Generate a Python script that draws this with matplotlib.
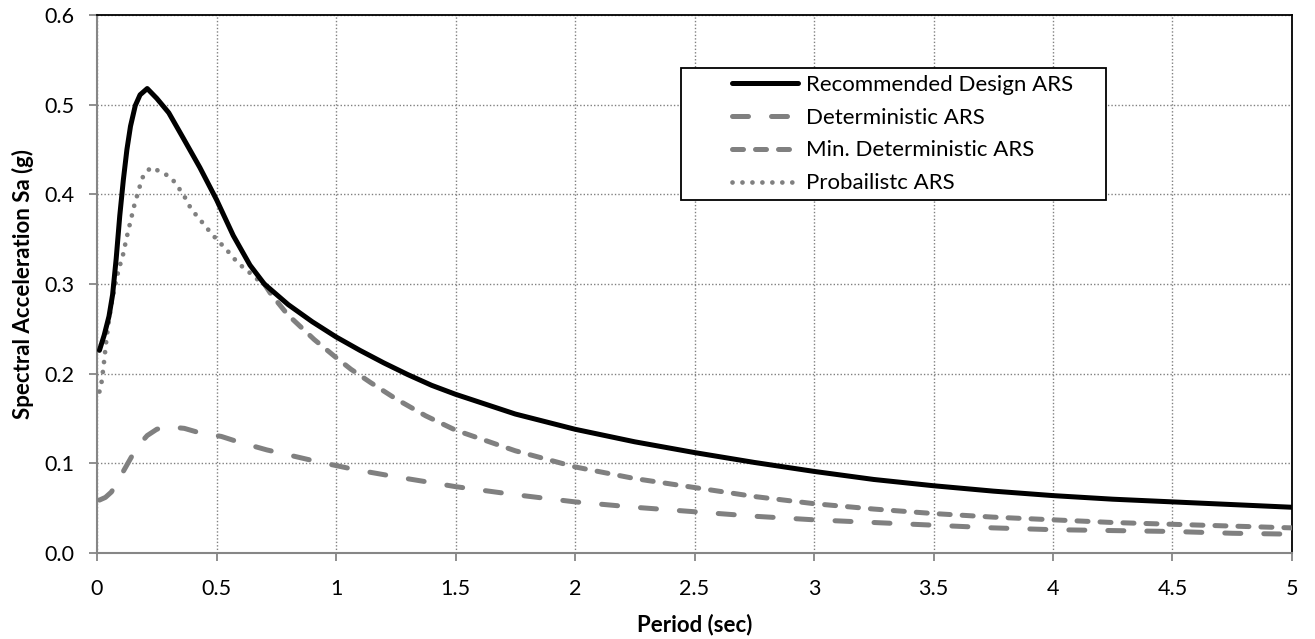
import numpy as np
import matplotlib
matplotlib.use("Agg")
import matplotlib.pyplot as plt
from matplotlib.legend_handler import HandlerLine2D

plt.rcParams['font.family'] = ['Lato', 'DejaVu Sans']

# Recommended Design ARS
t_design = [0.01, 0.03, 0.05, 0.065, 0.08, 0.095, 0.11, 0.125, 0.14, 0.16, 0.18, 0.21,
            0.25, 0.30, 0.36, 0.43, 0.50, 0.57, 0.64, 0.70, 0.80, 0.90, 1.0, 1.1, 1.2,
            1.3, 1.4, 1.5, 1.75, 2.0, 2.25, 2.5, 2.75, 3.0, 3.25, 3.5, 3.75, 4.0, 4.25,
            4.5, 4.75, 5.0]
sa_design = [0.226, 0.243, 0.264, 0.288, 0.328, 0.376, 0.416, 0.450, 0.476, 0.499, 0.511, 0.518,
             0.507, 0.491, 0.463, 0.430, 0.394, 0.354, 0.321, 0.300, 0.277, 0.258, 0.241, 0.226, 0.212,
             0.199, 0.187, 0.177, 0.155, 0.138, 0.124, 0.112, 0.101, 0.091, 0.082, 0.075, 0.069, 0.064, 0.060,
             0.057, 0.054, 0.051]

# Deterministic ARS
t_det = [0.01, 0.035, 0.06, 0.085, 0.114, 0.15, 0.18, 0.21, 0.25, 0.29, 0.365, 0.43, 0.52,
         0.59, 0.71, 0.92, 1.08, 1.25, 1.41, 1.5, 1.75, 2.0, 2.25, 2.5, 2.75, 3.0, 3.25,
         3.5, 3.75, 4.0, 4.25, 4.5, 4.75, 5.0]
sa_det = [0.059, 0.062, 0.068, 0.079, 0.093, 0.110, 0.122, 0.131, 0.138, 0.141, 0.139, 0.134, 0.130,
          0.124, 0.115, 0.102, 0.093, 0.085, 0.078, 0.074, 0.065, 0.057, 0.051, 0.046, 0.041, 0.037, 0.034,
          0.031, 0.028, 0.026, 0.025, 0.024, 0.022, 0.021]

# Min. Deterministic ARS
t_mindet = [0.70, 0.727, 0.797, 0.909, 1.0, 1.062, 1.145, 1.25, 1.375, 1.5, 1.75, 2.0, 2.25, 2.5,
            2.75, 3.0, 3.25, 3.5, 3.75, 4.0, 4.25, 4.5, 4.75, 5.0]
sa_mindet = [0.300, 0.289, 0.266, 0.238, 0.218, 0.205, 0.190, 0.172, 0.153, 0.137, 0.114, 0.096, 0.083, 0.073,
             0.063, 0.055, 0.049, 0.044, 0.040, 0.037, 0.034, 0.032, 0.030, 0.028]

# Probabilistic ARS
t_prob = [0.01, 0.02, 0.03, 0.04, 0.05, 0.065, 0.084, 0.097, 0.11, 0.12, 0.131, 0.142, 0.153,
          0.167, 0.18, 0.195, 0.226, 0.268, 0.309, 0.337, 0.365, 0.389, 0.417, 0.449, 0.479,
          0.511, 0.546, 0.578, 0.613, 0.651, 0.70]
sa_prob = [0.180, 0.192, 0.215, 0.240, 0.260, 0.285, 0.309, 0.322, 0.334, 0.347, 0.360, 0.372, 0.385,
           0.398, 0.410, 0.422, 0.430, 0.425, 0.419, 0.409, 0.398, 0.386, 0.376, 0.366, 0.356,
           0.347, 0.337, 0.327, 0.318, 0.310, 0.298]

gray = '#808080'
fs = 16

fig = plt.figure(figsize=(13.15, 6.39), dpi=100)
ax = fig.add_axes([0.0738, 0.1346, 0.9087, 0.8419])

ax.plot(t_det, sa_det, color=gray, lw=3.6, dashes=(3.2, 4.6), dash_capstyle='round',
        label='Deterministic ARS', zorder=3)
ax.plot(t_mindet, sa_mindet, color=gray, lw=3.6, dashes=(2.2, 2.4), dash_capstyle='round',
        label='Min. Deterministic ARS', zorder=3)
ax.plot(t_prob, sa_prob, color=gray, lw=3.4, dashes=(0.01, 2.1), dash_capstyle='round',
        label='Probailistc ARS', zorder=3)
ax.plot(t_design, sa_design, color='black', lw=3.6, solid_capstyle='round',
        label='Recommended Design ARS', zorder=4)

ax.set_xlim(0, 5)
ax.set_ylim(0, 0.6)
ax.set_xticks(np.arange(0, 5.01, 0.5))
ax.set_xticklabels(['0', '0.5', '1', '1.5', '2', '2.5', '3', '3.5', '4', '4.5', '5'])
ax.set_yticks(np.arange(0, 0.61, 0.1))
ax.set_yticklabels(['%.1f' % v for v in np.arange(0, 0.61, 0.1)])

ax.grid(True, color=gray, lw=1.0, linestyle=(0, (1, 1.5)))
ax.set_axisbelow(True)

for s in ['left', 'bottom']:
    ax.spines[s].set_color('#868686')
    ax.spines[s].set_linewidth(1.5)
for s in ['top', 'right']:
    ax.spines[s].set_color('black')
    ax.spines[s].set_linewidth(1.3)

ax.tick_params(axis='both', direction='out', length=6, width=1.3, color='#868686',
               labelsize=15.5, labelcolor='black')
ax.tick_params(axis='x', pad=13)
ax.tick_params(axis='y', pad=10)

ax.set_xlabel('Period (sec)', fontsize=fs, fontweight='bold', labelpad=10)
ax.set_ylabel('Spectral Acceleration Sa (g)', fontsize=fs, fontweight='bold', labelpad=8)

handles, labels = ax.get_legend_handles_labels()
order = [3, 0, 1, 2]
hmap = {h: HandlerLine2D(xpad=1.98) for h in handles}
leg = ax.legend([handles[i] for i in order], [labels[i] for i in order],
                loc='upper left', bbox_to_anchor=(0.4887, 0.656, 0.356, 0.2455),
                mode='expand', fontsize=fs, frameon=True, handler_map=hmap,
                fancybox=False, edgecolor='black', framealpha=1, borderaxespad=0,
                handlelength=4.95, handletextpad=0.36, labelspacing=0.58, borderpad=0.3)
leg.get_frame().set_linewidth(1.3)

fig.savefig('out.png', dpi=100)
